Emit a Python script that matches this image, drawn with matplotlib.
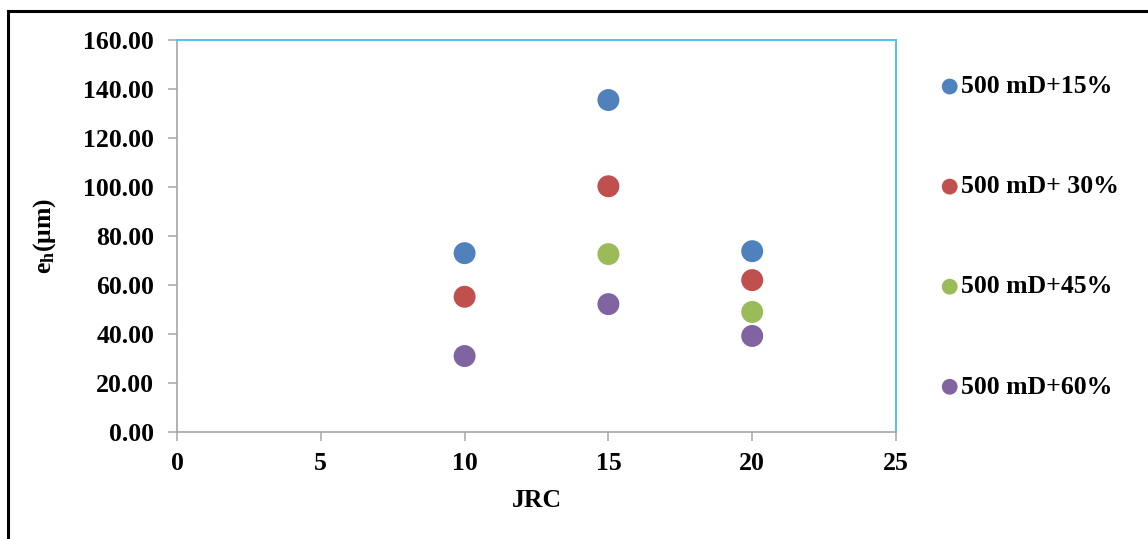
import numpy as np
import matplotlib.pyplot as plt
from matplotlib.patches import Rectangle

jrc = [10, 15, 20]
series_labels = ["500 mD+15%", "500 mD+ 30%", "500 mD+45%", "500 mD+60%"]
eh_15 = [73.0, 135.5, 73.8]
eh_30 = [55.2, 100.3, 62.0]
eh_45 = [np.nan, 72.6, 49.0]
eh_60 = [31.0, 52.2, 39.2]
colors = ["#4F81BD", "#C0504D", "#9BBB59", "#8064A2"]

W, H, DPI = 1148, 539, 100
plt.rcParams["font.family"] = ["Liberation Serif", "DejaVu Serif"]
plt.rcParams["mathtext.fontset"] = "custom"
plt.rcParams["mathtext.rm"] = "Liberation Serif:bold"
plt.rcParams["mathtext.it"] = "Liberation Serif:bold"
plt.rcParams["mathtext.bf"] = "Liberation Serif:bold"

FS = 18.5

fig = plt.figure(figsize=(W / DPI, H / DPI), dpi=DPI)
ax = fig.add_axes([177 / W, 1 - 432 / H, (896 - 177) / W, (432 - 40) / H])

for vals, lab, col in zip([eh_15, eh_30, eh_45, eh_60], series_labels, colors):
    ax.scatter(jrc, vals, s=250, color=col, label=lab, edgecolors="none", zorder=3)

ax.set_xlim(0, 25)
ax.set_ylim(0, 160)
ax.set_xticks(range(0, 26, 5))
ax.set_yticks(range(0, 161, 20))
ax.set_yticklabels([f"{v:.2f}" for v in range(0, 161, 20)])

for side in ["left", "bottom"]:
    ax.spines[side].set_color("#A6A6A6")
    ax.spines[side].set_linewidth(1.2)
for side in ["top", "right"]:
    ax.spines[side].set_color("#4FC3F0")
    ax.spines[side].set_linewidth(1.4)

ax.tick_params(axis="both", which="major", length=6.5, width=1.1, color="#A6A6A6",
               labelsize=FS, direction="out")
ax.tick_params(axis="y", pad=10)
ax.tick_params(axis="x", pad=8)
for t in ax.get_xticklabels() + ax.get_yticklabels():
    t.set_fontweight("bold")

ax.set_xlabel("JRC", fontsize=FS, fontweight="bold", labelpad=10)
ax.set_ylabel(r"e$_\mathregular{h}$(μm)", fontsize=FS, fontweight="bold", labelpad=18)

leg = fig.legend(loc="upper left", bbox_to_anchor=(924 / W, 1 - 65 / H),
                 frameon=False, handletextpad=-0.15, labelspacing=3.0,
                 markerscale=0.72, prop={"family": "Liberation Serif", "weight": "bold", "size": FS},
                 handlelength=1.2, borderaxespad=0)

fig.patches.append(Rectangle((8 / W, -0.1), 1.2, 1 - 11 / H + 0.1, transform=fig.transFigure,
                             fill=False, edgecolor="black", linewidth=2.2, zorder=10))

fig.savefig("out.png", dpi=DPI)
